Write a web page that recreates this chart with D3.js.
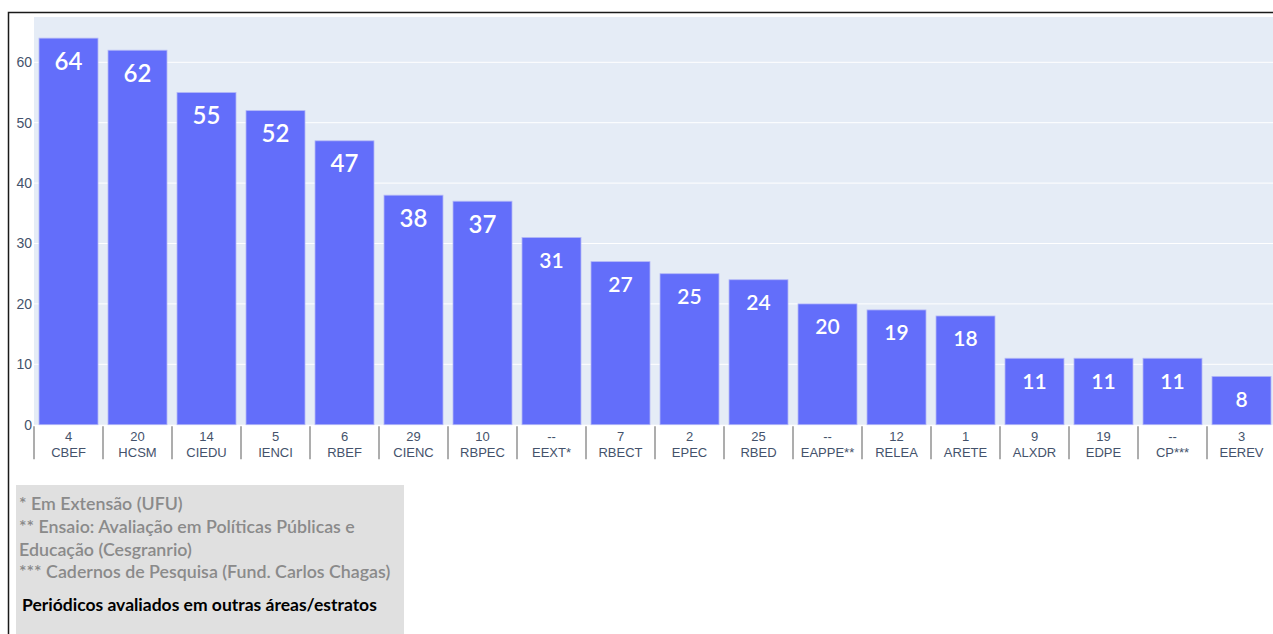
<!DOCTYPE html>
<html>
<head>
<meta charset="utf-8">
<script src="https://cdn.jsdelivr.net/npm/d3@7"></script>
<style>
  html, body { margin: 0; padding: 0; background: #fff; }
  svg { display: block; }
</style>
</head>
<body>
<svg id="chart" width="1273" height="634"></svg>
<script>
// Journals: code, abbreviation and count
const codes  = ["4", "20", "14", "5", "6", "29", "10", "--", "7", "2", "25", "--", "12", "1", "9", "19", "--", "3"];
const names  = ["CBEF", "HCSM", "CIEDU", "IENCI", "RBEF", "CIENC", "RBPEC", "EEXT*", "RBECT", "EPEC", "RBED", "EAPPE**", "RELEA", "ARETE", "ALXDR", "EDPE", "CP***", "EEREV"];
const counts = [64, 62, 55, 52, 47, 38, 37, 31, 27, 25, 24, 20, 19, 18, 11, 11, 11, 8];
const yTicks = [0, 10, 20, 30, 40, 50, 60];

const noteLines = [
  "* Em Extensão (UFU)",
  "** Ensaio: Avaliação em Políticas Públicas e",
  "Educação (Cesgranrio)",
  "*** Cadernos de Pesquisa (Fund. Carlos Chagas)"
];
const noteTitle = "Periódicos avaliados em outras áreas/estratos";

const svg = d3.select("#chart");
const plot = { left: 34, top: 17, width: 1242, bottom: 424.7 };
const axisFont = "'Liberation Sans', Arial, sans-serif";
const axisColor = "#44526b";

const data = names.map((n, i) => ({ key: i, code: codes[i], name: n, value: counts[i] }));

const x = d3.scaleBand()
  .domain(data.map(d => d.key))
  .range([plot.left, plot.left + plot.width])
  .paddingInner(0.145)
  .paddingOuter(0.0725);

const y = d3.scaleLinear()
  .domain([0, 67.5])
  .range([plot.bottom, plot.top]);

// outer frame
svg.append("path")
  .attr("d", `M8.5,634 V12.5 H1273`)
  .attr("fill", "none")
  .attr("stroke", "#1a1a1a")
  .attr("stroke-width", 1.5);

// plot background
svg.append("rect")
  .attr("x", plot.left).attr("y", plot.top)
  .attr("width", plot.width).attr("height", plot.bottom - plot.top)
  .attr("fill", "#e5ecf6");

// horizontal gridlines
svg.append("g")
  .selectAll("line")
  .data(yTicks.filter(t => t > 0))
  .join("line")
  .attr("x1", plot.left).attr("x2", plot.left + plot.width)
  .attr("y1", d => y(d)).attr("y2", d => y(d))
  .attr("stroke", "#fff").attr("stroke-width", 1);

// y axis labels
const yAxis = svg.append("g")
  .attr("transform", `translate(${plot.left},0)`)
  .call(d3.axisLeft(y).tickValues(yTicks).tickSize(0).tickPadding(2));
yAxis.select(".domain").remove();
yAxis.selectAll("text")
  .attr("font-family", axisFont)
  .attr("font-size", 14)
  .attr("fill", axisColor);

// bars
svg.append("g")
  .selectAll("rect")
  .data(data)
  .join("rect")
  .attr("x", d => x(d.key))
  .attr("width", x.bandwidth())
  .attr("y", d => y(d.value))
  .attr("height", d => y(0) - y(d.value))
  .attr("fill", "#636efa")
  .attr("stroke", "#b3b8f7")
  .attr("stroke-width", 0.8);

// value labels inside bars
svg.append("g")
  .selectAll("text")
  .data(data)
  .join("text")
  .attr("x", d => x(d.key) + x.bandwidth() / 2)
  .attr("y", d => y(d.value) + 22)
  .attr("text-anchor", "middle")
  .attr("dominant-baseline", "central")
  .attr("font-family", "Lato, 'Open Sans', sans-serif")
  .attr("font-size", d => d.value >= 35 ? 24 : 21)
  .attr("font-weight", 600)
  .attr("fill", "#fff")
  .text(d => d.value);

// category boundary ticks
const half = x.step() * x.paddingInner() / 2;
svg.append("g")
  .selectAll("line")
  .data(data)
  .join("line")
  .attr("x1", d => x(d.key) - half).attr("x2", d => x(d.key) - half)
  .attr("y1", plot.bottom + 1.5).attr("y2", plot.bottom + 34.5)
  .attr("stroke", "#999").attr("stroke-width", 1.6);

// x axis labels: journal code above its abbreviation
const xAxis = svg.append("g")
  .attr("transform", `translate(0,${plot.bottom})`)
  .call(d3.axisBottom(x).tickSize(0).tickFormat(() => ""));
xAxis.select(".domain").remove();
xAxis.selectAll(".tick text").remove();
xAxis.selectAll(".tick").each(function(k) {
  const g = d3.select(this);
  [[data[k].code, 11.5], [data[k].name, 27.5]].forEach(([label, dy]) => {
    g.append("text")
      .attr("x", 0)
      .attr("y", dy)
      .attr("text-anchor", "middle")
      .attr("dominant-baseline", "central")
      .attr("font-family", axisFont)
      .attr("font-size", 13)
      .attr("fill", axisColor)
      .text(label);
  });
});

// notes box
svg.append("rect")
  .attr("x", 16).attr("y", 485)
  .attr("width", 388).attr("height", 149)
  .attr("fill", "#e0e0e0");

svg.append("g")
  .selectAll("text")
  .data(noteLines)
  .join("text")
  .attr("x", 19)
  .attr("y", (d, i) => 503 + i * 22.8)
  .attr("dominant-baseline", "central")
  .attr("font-family", "Lato, sans-serif")
  .attr("font-size", 17.8)
  .attr("font-weight", 600)
  .attr("fill", "#8a8a8a")
  .text(d => d);

svg.append("text")
  .attr("x", 22)
  .attr("y", 604)
  .attr("dominant-baseline", "central")
  .attr("font-family", "Lato, sans-serif")
  .attr("font-size", 17.5)
  .attr("font-weight", 700)
  .attr("fill", "#000")
  .text(noteTitle);
</script>
</body>
</html>
